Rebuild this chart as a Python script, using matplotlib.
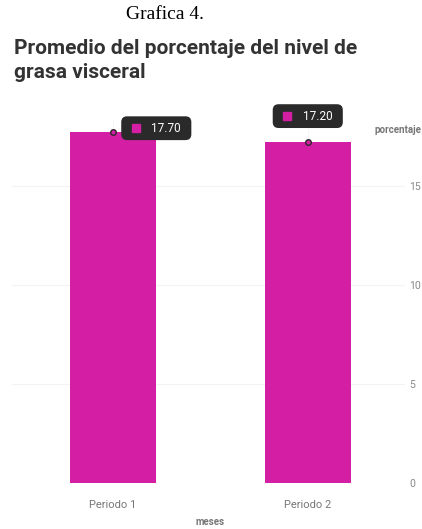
import matplotlib.pyplot as plt
from matplotlib.patches import FancyBboxPatch

categorias = ['Periodo 1', 'Periodo 2']
valores = [17.70, 17.20]
etiquetas = ['17.70', '17.20']
yticks = [0, 5, 10, 15]

rosa = '#D41FA4'
oscuro = '#2a2a2a'

fig = plt.figure(figsize=(4.22, 5.29), dpi=100)
ax = fig.add_axes([0.028, 0.087, 0.932, 0.686])

x = list(range(len(categorias)))
ax.bar(x, valores, width=0.44, color=rosa, zorder=2)
ax.set_xlim(-0.52, 1.5)
ax.set_ylim(0, 18.3)

ax.set_xticks(x)
ax.set_xticklabels(categorias, fontsize=8, color='#777777', family='Roboto')
ax.set_yticks(yticks)
ax.set_yticklabels([str(t) for t in yticks], fontsize=7.5, color='#888888', family='Roboto')
ax.yaxis.tick_right()
ax.tick_params(axis='x', length=0, pad=12)
ax.tick_params(axis='y', length=0, pad=3)
for s in ax.spines.values():
    s.set_visible(False)
ax.grid(axis='y', color='#f3f3f3', linewidth=0.8, zorder=0)
ax.grid(axis='x', color='#f6f6f6', linewidth=0.8, zorder=0)

# tooltips (centre offsets from bar top, in data units)
offsets = [(0.222, 0.19), (0.0, 1.3)]
w, h = 0.36, 1.2
aspect = 194 / 19.84
for xi, v, lab, (dx, dy) in zip(x, valores, etiquetas, offsets):
    cx, cy = xi + dx, v + dy
    box = FancyBboxPatch((cx - w / 2, cy - h / 2), w, h,
                         boxstyle='round,pad=0,rounding_size=0.03',
                         mutation_aspect=aspect, fc=oscuro, ec='none',
                         zorder=5, clip_on=False)
    ax.add_patch(box)
    ax.plot(cx - 0.105, cy, marker='s', ms=5.5, color=rosa, zorder=6, clip_on=False)
    ax.text(cx + 0.05, cy, lab, fontsize=8.5, color='white', family='Roboto',
            ha='center', va='center', zorder=6, clip_on=False)
    ax.plot(xi, v, marker='o', ms=4, mfc=rosa, mec=oscuro, mew=1,
            zorder=6, clip_on=False)

fig.text(0.39, 0.973, 'Grafica 4.', fontsize=14, family='Liberation Serif',
         ha='center', va='center', color='black')
fig.text(0.033, 0.908, 'Promedio del porcentaje del nivel de', fontsize=15,
         fontweight='bold', family='Roboto', color='#333333', va='center')
fig.text(0.033, 0.863, 'grasa visceral', fontsize=15,
         fontweight='bold', family='Roboto', color='#333333', va='center')
fig.text(0.998, 0.755, 'porcentaje', fontsize=7, fontweight='bold',
         family='Roboto', color='#777777', ha='right', va='center')
fig.text(0.498, 0.013, 'meses', fontsize=7, fontweight='bold',
         family='Roboto', color='#777777', ha='center', va='center')

fig.savefig('out.png', dpi=100)
